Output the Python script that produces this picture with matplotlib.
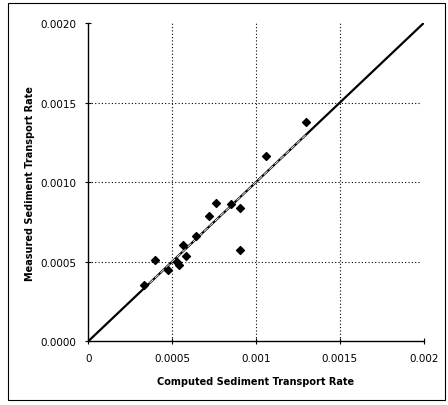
import matplotlib
matplotlib.use("Agg")
import matplotlib.pyplot as plt
from matplotlib.patches import Rectangle

computed = [0.000333, 0.000395, 0.000473, 0.000530, 0.000538, 0.000566, 0.000582,
            0.000645, 0.000720, 0.000760, 0.000853, 0.000903, 0.000903, 0.001058, 0.001297]
measured = [0.000354, 0.000509, 0.000450, 0.000496, 0.000479, 0.000607, 0.000538,
            0.000660, 0.000789, 0.000869, 0.000863, 0.000838, 0.000576, 0.001166, 0.001376]
line_x = [0.0, 0.002]
trend_x = [0.000333, 0.001297]

xticks = [0, 0.0005, 0.001, 0.0015, 0.002]
xticklabels = ["0", "0.0005", "0.001", "0.0015", "0.002"]
yticks = [0, 0.0005, 0.001, 0.0015, 0.002]
yticklabels = ["0.0000", "0.0005", "0.0010", "0.0015", "0.0020"]

fig = plt.figure(figsize=(4.48, 4.06), dpi=100)
fig.patches.append(Rectangle((0.018, 0.012), 0.975, 0.978, transform=fig.transFigure,
                             fill=False, edgecolor="black", linewidth=0.8))
ax = fig.add_axes([0.197, 0.157, 0.749, 0.784])

ax.plot(line_x, line_x, color="black", linewidth=1.6, zorder=3)
ax.plot(trend_x, trend_x, color="white", linewidth=0.6, linestyle=(0, (6, 3)), zorder=4)
ax.scatter(computed, measured, marker="D", s=16, color="black", zorder=5)

ax.set_xlim(0, 0.002)
ax.set_ylim(0, 0.002)
ax.set_xticks(xticks)
ax.set_xticklabels(xticklabels)
ax.set_yticks(yticks)
ax.set_yticklabels(yticklabels)
ax.tick_params(direction="inout", length=5, width=0.8, labelsize=7.5, pad=6)

for v in [0.0005, 0.001, 0.0015]:
    ax.axvline(v, color="black", linestyle=(0, (1, 2)), linewidth=0.8, zorder=1)
    ax.axhline(v, xmax=0.99, color="black", linestyle=(0, (1, 2)), linewidth=0.8, zorder=1)

ax.spines["top"].set_visible(False)
ax.spines["right"].set_visible(False)
ax.spines["left"].set_linewidth(1.0)
ax.spines["bottom"].set_linewidth(1.0)

ax.set_xlabel("Computed Sediment Transport Rate", fontsize=7, fontweight="bold", labelpad=9)
ax.set_ylabel("Measured Sediment Transport Rate", fontsize=7, fontweight="bold", labelpad=4)

fig.savefig("out.png", dpi=100)
